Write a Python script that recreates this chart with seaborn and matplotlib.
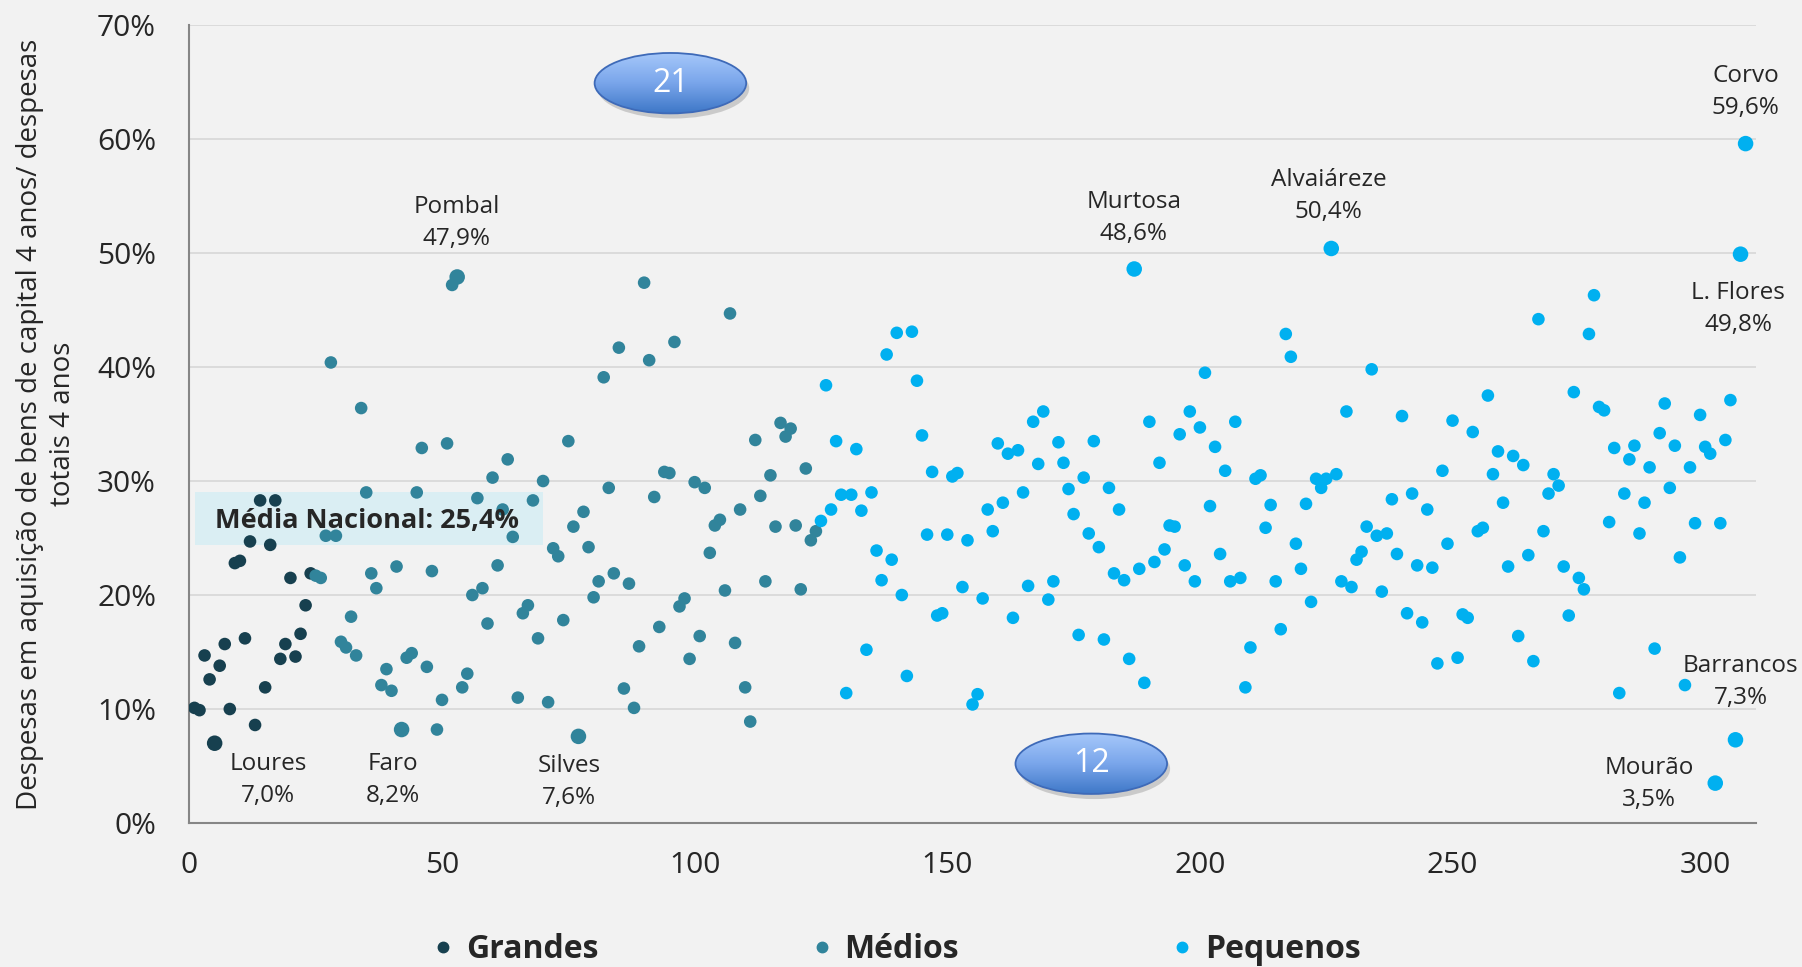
import numpy as np
import pandas as pd
import matplotlib
matplotlib.use("Agg")
import matplotlib.pyplot as plt
import seaborn as sns
from matplotlib.patches import Ellipse, Rectangle
from matplotlib.lines import Line2D
from matplotlib.ticker import PercentFormatter

# despesas em bens de capital / despesas totais (%), por municipio ordenado
grandes = [10.1, 9.9, 14.7, 12.6, 7.0, 13.8, 15.7, 10.0, 22.8, 23.0, 16.2, 24.7,
           8.6, 28.3, 11.9, 24.4, 28.3, 14.4, 15.7, 21.5, 14.6, 16.6, 19.1, 21.9]

medios = [21.7, 21.5, 25.2, 40.4, 25.2, 15.9, 15.4, 18.1, 14.7, 36.4,
          29.0, 21.9, 20.6, 12.1, 13.5, 11.6, 22.5, 8.2, 14.5, 14.9,
          29.0, 32.9, 13.7, 22.1, 8.2, 10.8, 33.3, 47.2, 47.9, 11.9,
          13.1, 20.0, 28.5, 20.6, 17.5, 30.3, 22.6, 27.5, 31.9, 25.1,
          11.0, 18.4, 19.1, 28.3, 16.2, 30.0, 10.6, 24.1, 23.4, 17.8,
          33.5, 26.0, 7.6, 27.3, 24.2, 19.8, 21.2, 39.1, 29.4, 21.9,
          41.7, 11.8, 21.0, 10.1, 15.5, 47.4, 40.6, 28.6, 17.2, 30.8,
          30.7, 42.2, 19.0, 19.7, 14.4, 29.9, 16.4, 29.4, 23.7, 26.1,
          26.6, 20.4, 44.7, 15.8, 27.5, 11.9, 8.9, 33.6, 28.7, 21.2,
          30.5, 26.0, 35.1, 33.9, 34.6, 26.1, 20.5, 31.1, 24.8, 25.6]

pequenos = [26.5, 38.4, 27.5, 33.5, 28.8, 11.4, 28.8, 32.8, 27.4, 15.2,
            29.0, 23.9, 21.3, 41.1, 23.1, 43.0, 20.0, 12.9, 43.1, 38.8,
            34.0, 25.3, 30.8, 18.2, 18.4, 25.3, 30.4, 30.7, 20.7, 24.8,
            10.4, 11.3, 19.7, 27.5, 25.6, 33.3, 28.1, 32.4, 18.0, 32.7,
            29.0, 20.8, 35.2, 31.5, 36.1, 19.6, 21.2, 33.4, 31.6, 29.3,
            27.1, 16.5, 30.3, 25.4, 33.5, 24.2, 16.1, 29.4, 21.9, 27.5,
            21.3, 14.4, 48.6, 22.3, 12.3, 35.2, 22.9, 31.6, 24.0, 26.1,
            26.0, 34.1, 22.6, 36.1, 21.2, 34.7, 39.5, 27.8, 33.0, 23.6,
            30.9, 21.2, 35.2, 21.5, 11.9, 15.4, 30.2, 30.5, 25.9, 27.9,
            21.2, 17.0, 42.9, 40.9, 24.5, 22.3, 28.0, 19.4, 30.2, 29.4,
            30.2, 50.4, 30.6, 21.2, 36.1, 20.7, 23.1, 23.8, 26.0, 39.8,
            25.2, 20.3, 25.4, 28.4, 23.6, 35.7, 18.4, 28.9, 22.6, 17.6,
            27.5, 22.4, 14.0, 30.9, 24.5, 35.3, 14.5, 18.3, 18.0, 34.3,
            25.6, 25.9, 37.5, 30.6, 32.6, 28.1, 22.5, 32.2, 16.4, 31.4,
            23.5, 14.2, 44.2, 25.6, 28.9, 30.6, 29.6, 22.5, 18.2, 37.8,
            21.5, 20.5, 42.9, 46.3, 36.5, 36.2, 26.4, 32.9, 11.4, 28.9,
            31.9, 33.1, 25.4, 28.1, 31.2, 15.3, 34.2, 36.8, 29.4, 33.1,
            23.3, 12.1, 31.2, 26.3, 35.8, 33.0, 32.4, 3.5, 26.3, 33.6,
            37.1, 7.3, 49.9, 59.6]

categorias = ["Grandes", "Médios", "Pequenos"]
cores = ["#17404F", "#31849B", "#00B0F0"]

# municipios destacados: nome, indice, valor, posicao do texto (x, y)
destaques = [("Loures", 5, 7.0, 15.6, 3.8), ("Faro", 42, 8.2, 40.2, 3.8),
             ("Silves", 77, 7.6, 75.2, 3.6), ("Pombal", 53, 47.9, 52.9, 52.6),
             ("Murtosa", 187, 48.6, 186.9, 53.1), ("Alvaiáreze", 226, 50.4, 225.5, 55.0),
             ("Corvo", 308, 59.6, 308.0, 64.1), ("L. Flores", 307, 49.8, 306.5, 45.1),
             ("Barrancos", 306, 7.3, 307.0, 12.4), ("Mourão", 302, 3.5, 288.9, 3.4)]

media_nacional = 25.4
caixas = [("21", 95.2, 64.9), ("12", 178.5, 5.2)]


def pct(v):
    return f"{v:.1f}%".replace(".", ",")


valores = grandes + medios + pequenos
grupo = (["Grandes"] * len(grandes) + ["Médios"] * len(medios)
         + ["Pequenos"] * len(pequenos))
df = pd.DataFrame({"ordem": np.arange(1, len(valores) + 1), "valor": valores,
                   "grupo": grupo})

sns.set_style("white")
plt.rcParams["font.family"] = ["Open Sans", "DejaVu Sans"]
bg = "#F2F2F2"

fig = plt.figure(figsize=(18.02, 9.67), dpi=100, facecolor=bg)
ax = fig.add_axes([0.1051, 0.1489, 0.8692, 0.8252])
ax.set_facecolor(bg)

# caixa da media nacional
ax.add_patch(Rectangle((1.2, 24.4), 68.8, 4.65, facecolor="#DAEEF3",
                       edgecolor="none", zorder=1))

pal = dict(zip(categorias, cores))
sns.scatterplot(data=df, x="ordem", y="valor", hue="grupo", palette=pal,
                s=82, linewidth=0, legend=False, ax=ax, zorder=3)

idx = [d[1] for d in destaques]
sub = df[df["ordem"].isin(idx)]
sns.scatterplot(data=sub, x="ordem", y="valor", hue="grupo", palette=pal,
                s=125, linewidth=0, legend=False, ax=ax, zorder=4)

ax.text(5.1, 26.5, "Média Nacional: " + pct(media_nacional),
        fontsize=19.5, fontweight="bold", va="center", ha="left", zorder=5)

for nome, i, v, tx, ty in destaques:
    ax.text(tx, ty, nome + "\n" + pct(v), ha="center",
            va="center", fontsize=17.5, linespacing=1.45, zorder=5)

# elipses com gradiente
grad = np.linspace(0, 1, 100).reshape(-1, 1)
cmap = matplotlib.colors.LinearSegmentedColormap.from_list(
    "azul", ["#A6C8FA", "#7AA6EB", "#3F78C8"])
for txt, cx, cy in caixas:
    w, h = 30.0, 5.3
    sh = Ellipse((cx + 0.6, cy - 0.45), w, h, facecolor="#555555", alpha=0.25,
                 edgecolor="none", zorder=5)
    ax.add_patch(sh)
    el = Ellipse((cx, cy), w, h, facecolor="none", edgecolor="#3E6AB8",
                 linewidth=1.3, zorder=7)
    ax.add_patch(el)
    im = ax.imshow(grad, extent=[cx - w / 2, cx + w / 2, cy - h / 2, cy + h / 2],
                   cmap=cmap, aspect="auto", origin="upper", zorder=6)
    im.set_clip_path(el)
    ax.text(cx, cy, txt, color="white", fontsize=23, ha="center", va="center",
            zorder=8)

ax.set_xlim(0, 310)
ax.set_ylim(0, 70)
ax.set_xticks(np.arange(0, 301, 50))
ax.set_yticks(np.arange(0, 71, 10))
ax.yaxis.set_major_formatter(PercentFormatter(decimals=0))
ax.grid(axis="y", color="#D9D9D9", linewidth=1.3)
ax.set_axisbelow(True)
for s in ["top", "right"]:
    ax.spines[s].set_visible(False)
for s in ["left", "bottom"]:
    ax.spines[s].set_color("#868686")
    ax.spines[s].set_linewidth(1.5)
ax.tick_params(axis="both", direction="in", length=8, color="#868686",
               labelsize=21.5)
ax.tick_params(axis="y", pad=24)
ax.tick_params(axis="x", pad=20)
ax.set_xlabel("")
ax.set_ylabel("")
fig.text(0.026, 0.5615,
         "Despesas em aquisição de bens de capital 4 anos/ despesas\ntotais 4 anos",
         rotation=90, ha="center", va="center", multialignment="center",
         fontsize=20, linespacing=1.25)

handles = [Line2D([], [], marker="o", linestyle="none", color=c, markersize=7.5)
           for c in cores]
fig.legend(handles, categorias, loc="center", bbox_to_anchor=(0.497, 0.018),
           ncol=3, frameon=False, prop={"weight": "bold", "size": 23},
           columnspacing=6.6, handlelength=0.8, handletextpad=0.3)

fig.savefig("out.png", dpi=100, facecolor=bg)
